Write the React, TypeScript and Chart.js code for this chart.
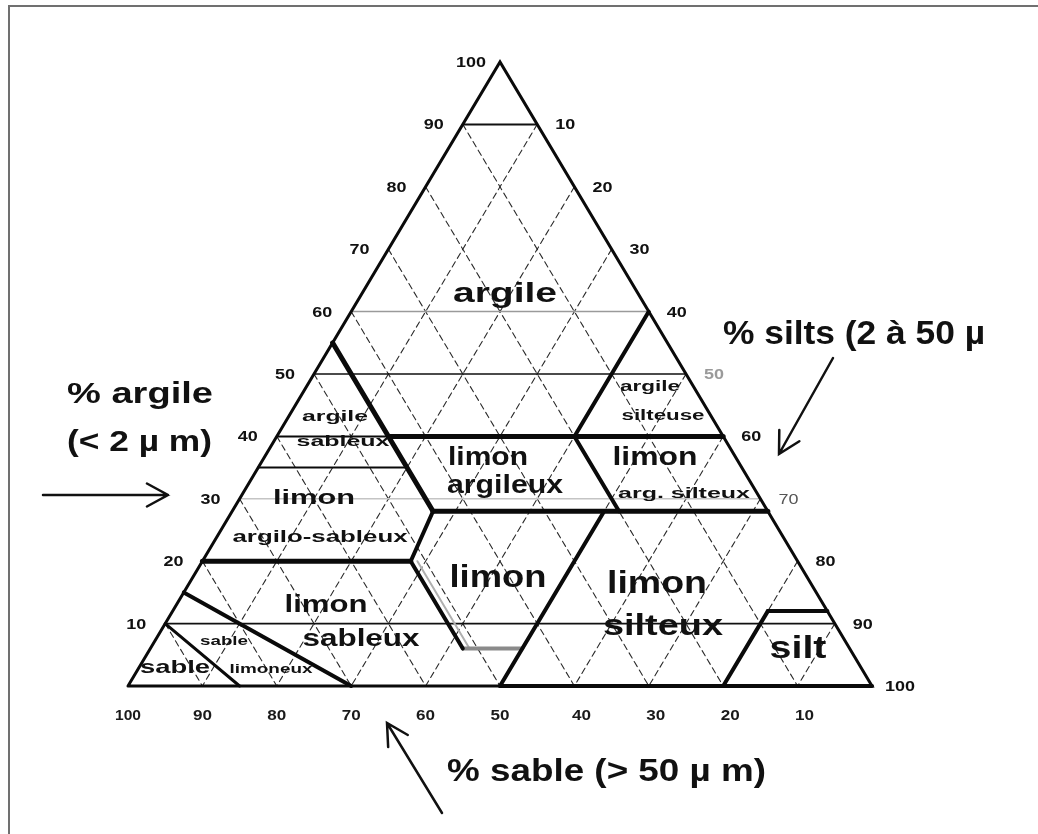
import React, { useEffect, useRef } from "react";
import { Chart, registerables } from "chart.js";

Chart.register(...registerables);

// A point of the texture triangle: [sand %, clay %]; silt is the remainder.
type Pt = [number, number];

// Axis graduations
const SAND_TICKS = [100, 90, 80, 70, 60, 50, 40, 30, 20, 10];
const CLAY_TICKS = [100, 90, 80, 70, 60, 50, 40, 30, 20, 10];
const SILT_TICKS = [10, 20, 30, 40, 50, 60, 70, 80, 90, 100];
const GRID_STEPS = [10, 20, 30, 40, 50, 60, 70, 80, 90];

// Full-width clay levels drawn as plain lines
const CLAY_LEVELS_BLACK = [90, 50, 10];
const CLAY_LEVELS_GREY = [60, 30];

// Texture-class borders, as [sand, clay] vertices
const OUTLINE: Pt[] = [[100, 0], [0, 100], [0, 0], [100, 0]];
const BASE_SILTY: Pt[] = [[50, 0], [0, 0]];
const SAND45_BORDER: Pt[] = [[45, 55], [45, 28]];
const CLAY40_BORDER: Pt[] = [[45, 40], [0, 40]];
const CLAY40_SANDY: Pt[] = [[60, 40], [45, 40]];
const CLAY35_BORDER: Pt[] = [[65, 35], [45, 35]];
const CLAY28_BORDER: Pt[] = [[45, 28], [0, 28]];
const CLAY20_BORDER: Pt[] = [[80, 20], [52, 20]];
const SILT28_BORDER: Pt[] = [[52, 20], [45, 28]];
const SAND52_BORDER: Pt[] = [[52, 20], [52, 6]];
const SAND52_SHADOW: Pt[] = [[51.1, 20], [51.1, 6]];
const CLAY6_STEP: Pt[] = [[52, 6], [44, 6]];
const SILT50_BORDER: Pt[] = [[50, 0], [22, 28]];
const SAND20_BORDER: Pt[] = [[20, 40], [20, 28]];
const SILT40_BORDER: Pt[] = [[0, 60], [20, 40]];
const SILT80_BORDER: Pt[] = [[20, 0], [8, 12]];
const CLAY12_BORDER: Pt[] = [[8, 12], [0, 12]];
const LOAMY_SAND_BORDER: Pt[] = [[85, 15], [70, 0]];
const SAND_BORDER: Pt[] = [[90, 10], [85, 0]];

// Class names
const CLASS_ARGILE = ["argile"];
const CLASS_ARGILE_SABLEUSE = ["argile", "sableux"];
const CLASS_LIMON_ARGILO_SABLEUX = ["limon", "argilo-sableux"];
const CLASS_LIMON_ARGILEUX = ["limon", "argileux"];
const CLASS_LIMON_ARG_SILTEUX = ["limon", "arg. silteux"];
const CLASS_ARGILE_SILTEUSE = ["argile", "silteuse"];
const CLASS_LIMON = ["limon"];
const CLASS_LIMON_SILTEUX = ["limon", "silteux"];
const CLASS_SILT = ["silt"];
const CLASS_LIMON_SABLEUX = ["limon", "sableux"];
const CLASS_SABLE_LIMONEUX = ["sable", "limoneux"];
const CLASS_SABLE = ["sable"];

// Placement of each class name line: [centre x, baseline y, font px, fitted width]
const CLASS_LABELS: [string[], number[][]][] = [
  [CLASS_ARGILE, [[505, 302, 27, 104]]],
  [CLASS_ARGILE_SABLEUSE, [[335, 421, 15, 66], [343, 446, 15, 93]]],
  [CLASS_LIMON_ARGILO_SABLEUX, [[314, 504, 20, 82], [320, 542, 16, 175]]],
  [CLASS_LIMON_ARGILEUX, [[488, 465, 25, 80], [505, 493, 25, 116]]],
  [CLASS_LIMON_ARG_SILTEUX, [[655, 465, 25, 85], [684, 498, 15, 132]]],
  [CLASS_ARGILE_SILTEUSE, [[650, 391, 14, 60], [663, 420, 14, 83]]],
  [CLASS_LIMON, [[498, 587, 32, 97]]],
  [CLASS_LIMON_SILTEUX, [[657, 593, 32, 100], [663, 635, 30, 120]]],
  [CLASS_SILT, [[798, 658, 32, 57]]],
  [CLASS_LIMON_SABLEUX, [[326, 612, 24, 83], [361, 646, 24, 117]]],
  [CLASS_SABLE_LIMONEUX, [[224, 645, 13, 48], [271, 673, 13, 83]]],
  [CLASS_SABLE, [[175, 673, 19, 70]]],
];

const FONT = '"Liberation Sans", Arial, sans-serif';

// ternary [sand, clay] -> cartesian data space (x 0..100 along the base, y = clay)
const toXY = ([sand, clay]: Pt) => ({ x: 100 - sand - clay / 2, y: clay });

function line(points: Pt[], color: string, width: number, dash: number[] = []) {
  return {
    data: points.map(toXY),
    showLine: true,
    borderColor: color,
    borderWidth: width,
    borderDash: dash,
    pointRadius: 0,
    pointHoverRadius: 0,
    fill: false,
    tension: 0,
    clip: false as const,
    borderCapStyle: "round" as const,
    borderJoinStyle: "miter" as const,
  };
}

function fitText(
  ctx: CanvasRenderingContext2D,
  text: string,
  x: number,
  baseline: number,
  size: number,
  width: number,
  align: "center" | "left" = "center",
  color = "#111",
  weight = "bold"
) {
  ctx.save();
  ctx.font = `${weight} ${size}px ${FONT}`;
  ctx.fillStyle = color;
  ctx.textBaseline = "alphabetic";
  ctx.textAlign = align;
  const w = ctx.measureText(text).width || 1;
  ctx.translate(x, baseline);
  ctx.scale(width / w, 1);
  ctx.fillText(text, 0, 0);
  ctx.restore();
}

function arrow(ctx: CanvasRenderingContext2D, x0: number, y0: number, x1: number, y1: number) {
  const a = Math.atan2(y1 - y0, x1 - x0);
  const head = 24;
  const spread = 0.5;
  ctx.save();
  ctx.strokeStyle = "#111";
  ctx.lineWidth = 2.5;
  ctx.lineCap = "round";
  ctx.beginPath();
  ctx.moveTo(x0, y0);
  ctx.lineTo(x1, y1);
  ctx.moveTo(x1 - head * Math.cos(a - spread), y1 - head * Math.sin(a - spread));
  ctx.lineTo(x1, y1);
  ctx.lineTo(x1 - head * Math.cos(a + spread), y1 - head * Math.sin(a + spread));
  ctx.stroke();
  ctx.restore();
}

const decorations = {
  id: "textureDecorations",
  beforeDraw(chart: any) {
    const { ctx, width, height } = chart;
    ctx.save();
    ctx.fillStyle = "#fff";
    ctx.fillRect(0, 0, width, height);
    ctx.strokeStyle = "#707070";
    ctx.lineWidth = 2;
    ctx.beginPath();
    ctx.moveTo(9, height);
    ctx.lineTo(9, 6);
    ctx.lineTo(width, 6);
    ctx.stroke();
    ctx.restore();
  },
  afterDatasetsDraw(chart: any) {
    const { ctx } = chart;
    const xs = chart.scales.x;
    const ys = chart.scales.y;
    const px = (p: Pt) => {
      const d = toXY(p);
      return [xs.getPixelForValue(d.x), ys.getPixelForValue(d.y)];
    };

    // clay graduations on the left edge
    CLAY_TICKS.forEach((c) => {
      const [x, y] = px([100 - c, c]);
      fitText(ctx, String(c), x - 29, y + 5, 15, c === 100 ? 30 : 20);
    });
    // silt graduations on the right edge
    SILT_TICKS.forEach((t) => {
      const [x, y] = px([0, 100 - t]);
      const col = t === 50 ? "#9a9a9a" : t === 70 ? "#555" : "#111";
      fitText(ctx, String(t), x + 28, y + 5, 15, t === 100 ? 30 : 20, "center", col, t === 70 ? "normal" : "bold");
    });
    // sand graduations under the base
    SAND_TICKS.forEach((s) => {
      const [x] = px([s, 0]);
      fitText(ctx, String(s), x + (s < 50 ? 7 : 0), 720, 15, s === 100 ? 26 : 19, "center", "#1a1a1a");
    });

    // class names
    CLASS_LABELS.forEach(([names, spots]) => {
      names.forEach((n, i) => {
        const [cx, by, size, w] = spots[i];
        fitText(ctx, n, cx, by, size, w);
      });
    });

    // axis titles and arrows
    fitText(ctx, "% argile", 67, 403, 29, 146, "left");
    fitText(ctx, "(< 2 µ m)", 67, 451, 29, 145, "left");
    arrow(ctx, 43, 495, 168, 495);
    fitText(ctx, "% silts (2 à 50 µ", 723, 344, 33, 262, "left");
    arrow(ctx, 833, 358, 779, 454);
    fitText(ctx, "% sable (> 50 µ m)", 447, 781, 31, 319, "left");
    arrow(ctx, 442, 813, 387, 723);
  },
};

export default function App() {
  const ref = useRef<HTMLCanvasElement>(null);

  useEffect(() => {
    const thick = "#0a0a0a";
    const datasets: any[] = [];

    // class borders (drawn on top)
    [
      SAND45_BORDER,
      CLAY40_BORDER,
      CLAY28_BORDER,
      CLAY20_BORDER,
    ].forEach((p) => datasets.push(line(p, thick, 5)));
    [
      SILT28_BORDER,
      SAND52_BORDER,
      SILT50_BORDER,
      SAND20_BORDER,
      SILT40_BORDER,
      SILT80_BORDER,
      CLAY12_BORDER,
      LOAMY_SAND_BORDER,
      BASE_SILTY,
    ].forEach((p) => datasets.push(line(p, thick, 4)));
    datasets.push(line(SAND_BORDER, thick, 3));
    datasets.push(line(CLAY35_BORDER, thick, 2));
    datasets.push(line(CLAY40_SANDY, thick, 2));
    datasets.push(line(CLAY6_STEP, "#8a8a8a", 4));
    datasets.push(line(SAND52_SHADOW, "#b0b0b0", 2));
    datasets.push(line(OUTLINE, thick, 3));

    // plain clay levels
    CLAY_LEVELS_BLACK.forEach((c) =>
      datasets.push(line([[100 - c, c], [0, c]], "#111", c === 90 ? 2 : 1.6))
    );
    CLAY_LEVELS_GREY.forEach((c) =>
      datasets.push(line([[100 - c, c], [0, c]], c === 60 ? "#9a9a9a" : "#c4c4c4", 1.5))
    );

    // dashed grid: constant sand and constant silt
    GRID_STEPS.forEach((s) =>
      datasets.push(line([[s, 100 - s], [s, 0]], "#2a2a2a", 1.1, [6, 4]))
    );
    GRID_STEPS.forEach((t) =>
      datasets.push(line([[0, 100 - t], [100 - t, 0]], "#2a2a2a", 1.1, [6, 4]))
    );

    const chart = new Chart(ref.current!, {
      type: "scatter",
      data: { datasets },
      options: {
        responsive: false,
        animation: false,
        devicePixelRatio: 1,
        layout: { padding: { left: 128, right: 166, top: 62, bottom: 148 } },
        scales: {
          x: { type: "linear", min: 0, max: 100, display: false },
          y: { type: "linear", min: 0, max: 100, display: false },
        },
        plugins: {
          legend: { display: false },
          tooltip: { enabled: false },
        },
        events: [],
      },
      plugins: [decorations],
    });
    return () => chart.destroy();
  }, []);

  return (
    <div style={{ position: "absolute", left: 0, top: 0, width: 1038, height: 834, background: "#fff" }}>
      <canvas ref={ref} width={1038} height={834} style={{ display: "block" }} />
    </div>
  );
}
